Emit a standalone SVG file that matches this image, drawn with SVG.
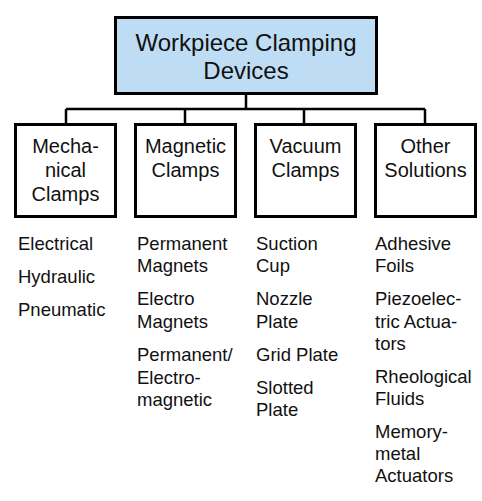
<svg xmlns="http://www.w3.org/2000/svg" width="482" height="501" viewBox="0 0 482 501">
<style>
text{font-family:"Liberation Sans",Arial,sans-serif;fill:#111}
.box{fill:#fff;stroke:#000;stroke-width:3}
.root{fill:#BEDDF5;stroke:#000;stroke-width:3}
.t1{font-size:24px;text-anchor:middle}
.t2{font-size:20px;text-anchor:middle}
.li{font-size:18.5px}
.con{fill:none;stroke:#000;stroke-width:2.5}
</style>
<rect width="482" height="501" fill="#fff"/>
<g id="connectors">
<path class="con" d="M246,93V109M66,109H425M66,109V124M185,109V124M304,109V124M425,109V124"/>
</g>
<g id="root">
<rect class="root" x="115.5" y="17.5" width="261" height="76"/>
<text class="t1" x="246" y="51">Workpiece Clamping</text>
<text class="t1" x="246" y="79">Devices</text>
</g>
<g id="mechanical">
<rect class="box" x="15.5" y="124.5" width="100" height="92"/>
<text class="t2" x="65.5" y="153">Mecha-</text>
<text class="t2" x="65.5" y="177">nical</text>
<text class="t2" x="65.5" y="201">Clamps</text>
</g>
<g id="magnetic">
<rect class="box" x="135.5" y="124.5" width="100" height="92"/>
<text class="t2" x="185.5" y="153">Magnetic</text>
<text class="t2" x="185.5" y="177">Clamps</text>
</g>
<g id="vacuum">
<rect class="box" x="255.5" y="124.5" width="100" height="92"/>
<text class="t2" x="305.5" y="153">Vacuum</text>
<text class="t2" x="305.5" y="177">Clamps</text>
</g>
<g id="other">
<rect class="box" x="375.5" y="124.5" width="100" height="92"/>
<text class="t2" x="425.5" y="153">Other</text>
<text class="t2" x="425.5" y="177">Solutions</text>
</g>
<g id="mechanical-list" class="li">
<text class="li" x="18" y="250">Electrical</text>
<text class="li" x="18" y="283">Hydraulic</text>
<text class="li" x="18" y="316">Pneumatic</text>
</g>
<g id="magnetic-list">
<text class="li" x="137" y="250">Permanent</text>
<text class="li" x="137" y="272">Magnets</text>
<text class="li" x="137" y="305">Electro</text>
<text class="li" x="137" y="328">Magnets</text>
<text class="li" x="137" y="361">Permanent/</text>
<text class="li" x="137" y="384">Electro-</text>
<text class="li" x="137" y="406">magnetic</text>
</g>
<g id="vacuum-list">
<text class="li" x="256" y="250">Suction</text>
<text class="li" x="256" y="272">Cup</text>
<text class="li" x="256" y="305">Nozzle</text>
<text class="li" x="256" y="328">Plate</text>
<text class="li" x="256" y="361">Grid Plate</text>
<text class="li" x="256" y="394">Slotted</text>
<text class="li" x="256" y="416">Plate</text>
</g>
<g id="other-list">
<text class="li" x="375" y="250">Adhesive</text>
<text class="li" x="375" y="272">Foils</text>
<text class="li" x="375" y="305">Piezoelec-</text>
<text class="li" x="375" y="328">tric Actua-</text>
<text class="li" x="375" y="350">tors</text>
<text class="li" x="375" y="383">Rheological</text>
<text class="li" x="375" y="405">Fluids</text>
<text class="li" x="375" y="438">Memory-</text>
<text class="li" x="375" y="460">metal</text>
<text class="li" x="375" y="482">Actuators</text>
</g>
</svg>
